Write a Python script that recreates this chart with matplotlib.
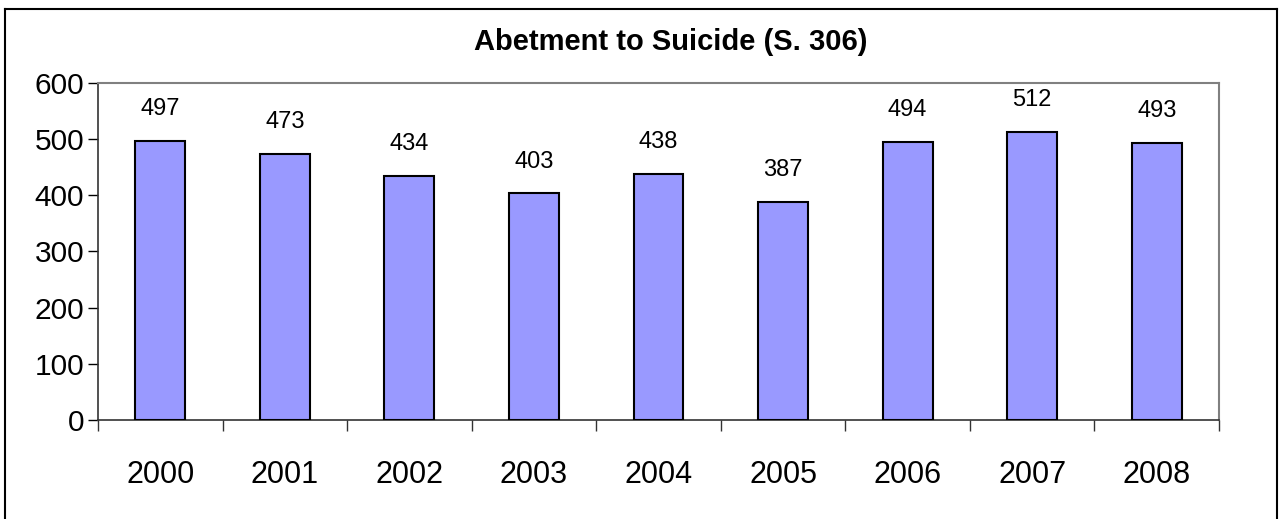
import numpy as np
import matplotlib
matplotlib.use('Agg')
from matplotlib import pyplot as plt
from matplotlib.lines import Line2D

# Số liệu
years = ['2000', '2001', '2002', '2003', '2004', '2005', '2006', '2007', '2008']
cases = [497, 473, 434, 403, 438, 387, 494, 512, 493]
title = 'Abetment to Suicide (S. 306)'

plt.rcParams['font.family'] = ['Liberation Sans', 'DejaVu Sans']

fig = plt.figure(figsize=(12.81, 5.19), dpi=100)
ax = fig.add_axes([98/1281, 1 - 420/519, (1219 - 98)/1281, (420 - 82.7)/519])

x = np.arange(len(years))
ax.bar(x, cases, width=0.4, color='#9999FF', edgecolor='black', linewidth=1.5, zorder=3)

for xi, v in zip(x, cases):
    ax.annotate(str(v), (xi, v), xytext=(0, 23), textcoords='offset points',
                ha='center', va='center', fontsize=17)

ax.set_xlim(-0.5, len(years) - 0.5)
ax.set_ylim(0, 600)
ax.set_yticks(range(0, 601, 100))
ax.tick_params(axis='y', labelsize=21.5, length=7, width=1, direction='out', pad=3)
ax.set_xticks(x)
ax.set_xticklabels(years)
ax.tick_params(axis='x', which='major', labelsize=22, length=0, pad=29)
ax.set_xticks(np.arange(-0.5, len(years), 1), minor=True)
ax.tick_params(axis='x', which='minor', length=8, width=1, direction='out', colors='#333333')

for s in ['top', 'right']:
    ax.spines[s].set_color('#808080')
    ax.spines[s].set_linewidth(1.5)
ax.spines['left'].set_color('#333333')
ax.spines['bottom'].set_color('#333333')
ax.spines['left'].set_linewidth(1.2)
ax.spines['bottom'].set_linewidth(1.2)

fig.text((473 + 868) / 2 / 1281, 1 - 42/519, title, ha='center', va='center',
         fontsize=21, fontweight='bold')

# Khung viền ngoài
W, H = 1281, 519
fig.add_artist(Line2D([5/W, 5/W], [0, 1 - 9/H], color='black', lw=1.5, transform=fig.transFigure))
fig.add_artist(Line2D([5/W, 1277/W], [1 - 9/H, 1 - 9/H], color='black', lw=1.5, transform=fig.transFigure))
fig.add_artist(Line2D([1277/W, 1277/W], [0, 1 - 9/H], color='black', lw=1.5, transform=fig.transFigure))

fig.savefig('out.png', dpi=100)
